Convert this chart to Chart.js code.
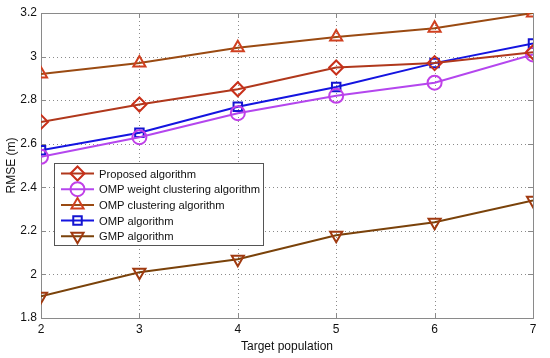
<!DOCTYPE html>
<html>
<head>
<meta charset="utf-8">
<script src="https://cdn.jsdelivr.net/npm/chart.js@4/dist/chart.umd.min.js"></script>
<style>
  html, body { margin: 0; padding: 0; background: #fff; }
  #wrap { width: 550px; height: 358px; }
</style>
</head>
<body>
<div id="wrap"><canvas id="rmseChart" width="550" height="358"></canvas></div>
<script>
// datos
const targets = [2, 3, 4, 5, 6, 7];
const yTicks = [1.8, 2, 2.2, 2.4, 2.6, 2.8, 3, 3.2];
const seriesNames = [
  'Proposed algorithm',
  'OMP weight clustering algorithm',
  'OMP clustering algorithm',
  'OMP algorithm',
  'GMP algorithm'
];
const proposed = [2.70, 2.78, 2.85, 2.95, 2.97, 3.02];
const ompWeight = [2.54, 2.63, 2.74, 2.82, 2.88, 3.01];
const ompClustering = [2.92, 2.97, 3.04, 3.09, 3.13, 3.20];
const omp = [2.57, 2.65, 2.77, 2.86, 2.97, 3.06];
const gmp = [1.90, 2.01, 2.07, 2.18, 2.24, 2.34];

const FONT = 'Liberation Sans, Arial, sans-serif';

const toPoints = vals => vals.map((v, i) => ({ x: targets[i], y: v }));

const mkSet = (label, vals, line, marker, style, rot) => ({
  label: label,
  data: toPoints(vals),
  borderColor: line,
  borderWidth: 2,
  pointStyle: style,
  pointRotation: rot || 0,
  pointRadius: style === 'rect' ? 6 : 7,
  pointBorderColor: marker,
  pointBackgroundColor: 'rgba(255,255,255,0)',
  pointBorderWidth: 2,
  tension: 0
});

// leyenda dentro del area (como en MATLAB)
const boxLegend = {
  id: 'boxLegend',
  afterDraw(chart) {
    const ctx = chart.ctx;
    const x0 = 54, y0 = 163, w = 209, h = 82;
    ctx.save();
    ctx.fillStyle = '#fff';
    ctx.fillRect(x0, y0, w, h);
    ctx.strokeStyle = '#555';
    ctx.lineWidth = 1;
    ctx.setLineDash([]);
    ctx.strokeRect(x0 + 0.5, y0 + 0.5, w, h);
    chart.data.datasets.forEach((ds, i) => {
      const cy = y0 + 10.5 + i * 15.7;
      ctx.strokeStyle = ds.borderColor;
      ctx.lineWidth = 2;
      ctx.beginPath();
      ctx.moveTo(61, cy);
      ctx.lineTo(94, cy);
      ctx.stroke();
      ctx.strokeStyle = ds.pointBorderColor;
      ctx.fillStyle = 'rgba(255,255,255,0)';
      Chart.helpers.drawPoint(ctx, {
        pointStyle: ds.pointStyle,
        rotation: ds.pointRotation,
        radius: ds.pointRadius,
        borderWidth: 2
      }, 77.5, cy);
      ctx.fillStyle = '#111';
      ctx.font = '11.2px ' + FONT;
      ctx.textBaseline = 'middle';
      ctx.fillText(ds.label, 99, cy + 1);
    });
    ctx.restore();
  }
};

// marco, rejilla punteada y marcas del eje
const frame = {
  id: 'frame',
  beforeDatasetsDraw(chart) {
    const { ctx, chartArea: a } = chart;
    const ys = chart.scales.y, xs = chart.scales.x;
    ctx.save();
    ctx.strokeStyle = '#8a8a8a';
    ctx.lineWidth = 1;
    ctx.setLineDash([1, 3]);
    ctx.beginPath();
    yTicks.slice(1, -1).forEach(t => {
      const py = Math.round(ys.getPixelForValue(t)) + 0.5;
      ctx.moveTo(a.left, py); ctx.lineTo(a.right, py);
    });
    targets.slice(1, -1).forEach(t => {
      const px = Math.round(xs.getPixelForValue(t)) + 0.5;
      ctx.moveTo(px, a.top); ctx.lineTo(px, a.bottom);
    });
    ctx.stroke();
    ctx.setLineDash([]);
    ctx.strokeRect(Math.round(a.left) + 0.5, Math.round(a.top) + 0.5,
      Math.round(a.right - a.left), Math.round(a.bottom - a.top));
    ctx.beginPath();
    yTicks.forEach(t => {
      const py = Math.round(ys.getPixelForValue(t)) + 0.5;
      ctx.moveTo(a.left, py); ctx.lineTo(a.left + 5, py);
      ctx.moveTo(a.right, py); ctx.lineTo(a.right - 5, py);
    });
    targets.forEach(t => {
      const px = Math.round(xs.getPixelForValue(t)) + 0.5;
      ctx.moveTo(px, a.bottom); ctx.lineTo(px, a.bottom - 5);
      ctx.moveTo(px, a.top); ctx.lineTo(px, a.top + 5);
    });
    ctx.stroke();
    ctx.restore();
  }
};

const ctx = document.getElementById('rmseChart').getContext('2d');
const rmseChart = new Chart(ctx, {
  type: 'line',
  data: {
    datasets: [
      mkSet(seriesNames[0], proposed, '#B0381C', '#C8301A', 'rectRot'),
      mkSet(seriesNames[1], ompWeight, '#B446EE', '#C040E8', 'circle'),
      mkSet(seriesNames[2], ompClustering, '#9A4A12', '#D04020', 'triangle'),
      mkSet(seriesNames[3], omp, '#1414E0', '#1414D0', 'rect'),
      mkSet(seriesNames[4], gmp, '#7A420A', '#A03A10', 'triangle', 180)
    ]
  },
  options: {
    responsive: false,
    animation: false,
    layout: { padding: { top: 13, right: 17, left: 0, bottom: 0 } },
    plugins: {
      legend: { display: false },
      tooltip: { enabled: false }
    },
    scales: {
      x: {
        type: 'linear',
        min: 2, max: 7,
        afterFit: s => { s.height = 40; },
        afterBuildTicks: s => { s.ticks = targets.map(v => ({ value: v })); },
        grid: { color: 'rgba(0,0,0,0)', drawTicks: false },
        border: { display: false },
        ticks: { color: '#111', font: { family: FONT, size: 12 }, padding: 4 },
        title: { display: true, text: 'Target population', color: '#111', font: { family: FONT, size: 12 }, padding: { top: 0 } }
      },
      y: {
        min: 1.8, max: 3.2,
        afterFit: s => { s.width = 41; },
        afterBuildTicks: s => { s.ticks = yTicks.map(v => ({ value: v })); },
        grid: { color: 'rgba(0,0,0,0)', drawTicks: false },
        border: { display: false },
        ticks: { color: '#111', font: { family: FONT, size: 12 }, padding: 4,
          callback: v => String(Math.round(v * 10) / 10) },
        title: { display: true, text: 'RMSE (m)', color: '#111', font: { family: FONT, size: 12 }, padding: { bottom: 0 } }
      }
    }
  },
  plugins: [frame, boxLegend]
});
</script>
</body>
</html>
